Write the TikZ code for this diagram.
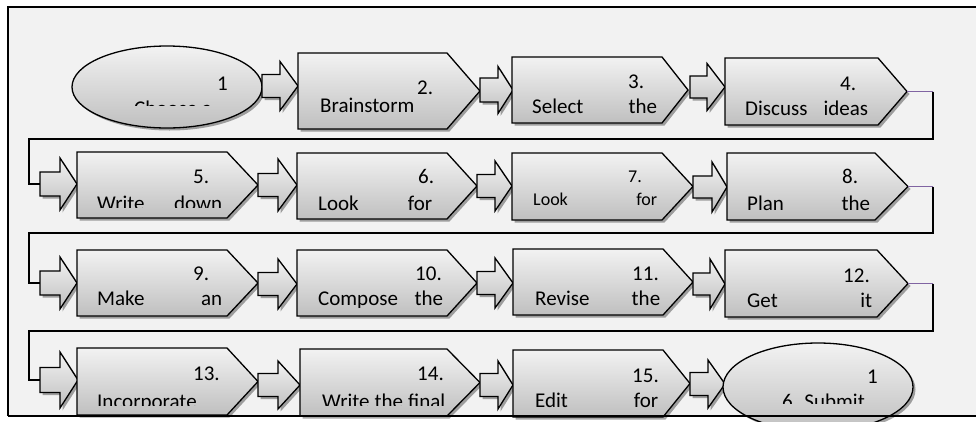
\documentclass[tikz,border=0pt]{standalone}
\usepackage{fontspec}
\setmainfont{Carlito}
\usetikzlibrary{shadows}
\definecolor{bgc}{HTML}{F2F2F2}
\definecolor{purp}{RGB}{128,100,162}
\tikzset{
  boxsty/.style={draw=black, line width=1.3pt, line join=miter, top color=gray!10, bottom color=gray!50,
    drop shadow={shadow xshift=2.5pt, shadow yshift=-2.5pt, fill=black, opacity=0.35}},
  txt/.style={inner sep=0pt, anchor=base west, font=\fontsize{21}{25}\selectfont},
  smtxt/.style={inner sep=0pt, anchor=base west, font=\fontsize{18}{22}\selectfont},
  conn/.style={line width=1.2pt, draw=black},
  pconn/.style={line width=1.2pt, draw=purp},
  framesty/.style={line width=2pt, draw=black},
}
% home-plate box: name, x left, x corner, x tip, y top, y bottom
\newcommand\hbx[6]{%
  \path[boxsty] (#2,#5) -- (#3,#5) -- (#4,{(#5+#6)/2}) -- (#3,#6) -- (#2,#6) -- cycle;
  \coordinate (#1-tip) at (#4,{(#5+#6)/2});
  \coordinate (#1-w) at (#2,{(#5+#6)/2});
}
% block arrow: name, x0, x head base, x tip, cy, shaft half, head half
\newcommand\barr[7]{%
  \path[boxsty] (#2,#5-#6) -- (#3,#5-#6) -- (#3,#5-#7) -- (#4,#5) -- (#3,#5+#7) -- (#3,#5+#6) -- (#2,#5+#6) -- cycle;
  \coordinate (#1-in) at (#2,#5);
  \coordinate (#1-tip) at (#4,#5);
}
\begin{document}
\begin{tikzpicture}[x=1pt,y=-1pt]
\useasboundingbox (0,0) rectangle (976,421);
\fill[white] (0,0) rectangle (976,421);
\fill[bgc] (8,7) rectangle (976,416);
\draw[framesty] (976,7) -- (8,7) -- (8,416);

% row-end connectors
\coordinate (c1a) at (933,91.5);
\coordinate (c1c) at (29,139);
\coordinate (c2a) at (933,186.5);
\coordinate (c2c) at (29,233);
\coordinate (c3a) at (933,283.5);
\coordinate (c3c) at (29,331);

% row 1
\path[boxsty] (167,87) ellipse [x radius=95, y radius=41];
\coordinate (e1) at (167,87);
\barr{a12}{262}{280}{298}{86}{11.5}{24.5}
\hbx{b2}{298}{447}{480}{53}{129}
\barr{a23}{480}{498}{513}{90}{12}{23.5}
\hbx{b3}{512}{662}{688}{57}{123}
\barr{a34}{690}{707}{725}{87}{11}{23.5}
\hbx{b4}{725}{878}{907}{58}{125}

% row 2
\barr{a45}{40}{60}{77}{184}{12}{26}
\hbx{b5}{77}{227}{258}{152}{218}
\barr{a56}{258}{278}{297}{185}{11.5}{26}
\hbx{b6}{297}{447}{477}{153}{219}
\barr{a67}{477}{495}{512}{186}{11.5}{25}
\hbx{b7}{512}{662}{693}{153}{220}
\barr{a78}{693}{712}{727}{187}{11}{25}
\hbx{b8}{727}{875}{908}{153}{220}

% row 3
\barr{a89}{40}{60}{77}{283}{12}{26}
\hbx{b9}{77}{227}{258}{250}{316}
\barr{a910}{258}{278}{297}{284}{11.5}{25}
\hbx{b10}{297}{447}{477}{250}{316}
\barr{a1011}{477}{495}{513}{283}{11.5}{25}
\hbx{b11}{513}{663}{693}{249}{315}
\barr{a1112}{693}{710}{725}{284}{11}{25}
\hbx{b12}{725}{877}{908}{250}{317}

% row 4
\barr{a1213}{40}{60}{78}{380}{12.5}{28}
\hbx{b13}{77}{227}{258}{348}{415}
\barr{a1314}{258}{278}{300}{385}{11.5}{24}
\hbx{b14}{300}{447}{480}{349}{416}
\barr{a1415}{480}{498}{513}{385}{11.5}{24}
\hbx{b15}{513}{663}{690}{350}{417}
\barr{a1516}{690}{708}{725}{384}{11.5}{24}
\path[boxsty] (818,387) ellipse [x radius=95, y radius=44];
\coordinate (e16) at (818,387);

% connectors between rows
\draw[pconn] (b4-tip) -- (c1a);
\draw[conn] (c1a) |- (c1c) |- (a45-in);
\draw[pconn] (b8-tip) -- (c2a);
\draw[conn] (c2a) |- (c2c) |- (a89-in);
\draw[pconn] (b12-tip) -- (c3a);
\draw[conn] (c3a) |- (c3c) |- (a1213-in);

% texts
\node[txt] (n1) at (217,90) {1};
\begin{scope}
  \clip (0,0) rectangle (976,105);
  \node[txt] (w1) at (134,115) {Choose a};
\end{scope}
\node[txt] (n2) at (417,94) {2.};
\node[txt] (w2) at (320,112) {Brainstorm};
\node[txt] (n3) at (628,88) {3.};
\node[txt] (w3) at (532,113) {\hbox to 125pt{Select\hfill the}};
\node[txt] (n4) at (840,90) {4.};
\node[txt] (w4) at (745,115) {\hbox to 123pt{Discuss\hfill ideas}};

\node[txt] (n5) at (193,183) {5.};
\begin{scope}
  \clip (0,150) rectangle (976,207.5);
  \node[txt] (w5) at (97,210) {\hbox to 125pt{Write\hfill down}};
\end{scope}
\node[txt] (n6) at (418,183) {6.};
\node[txt] (w6) at (318,210) {\hbox to 114pt{Look\hfill for}};
\node[smtxt] (n7) at (628,182) {7.};
\node[smtxt] (w7) at (533,205) {\hbox to 124pt{Look\hfill for}};
\node[txt] (n8) at (842,183) {8.};
\node[txt] (w8) at (747,210) {\hbox to 123pt{Plan\hfill the}};

\node[txt] (n9) at (193,280) {9.};
\node[txt] (w9) at (97,305) {\hbox to 125pt{Make\hfill an}};
\node[txt] (n10) at (415,280) {10.};
\begin{scope}
  \clip (0,250) rectangle (976,307);
  \node[txt] (w10) at (318,305) {\hbox to 125pt{Compose\hfill the}};
\end{scope}
\node[txt] (n11) at (632,280) {11.};
\node[txt] (w11) at (535,305) {\hbox to 125pt{Revise\hfill the}};
\node[txt] (n12) at (843,282) {12.};
\node[txt] (w12) at (747,307) {\hbox to 125pt{Get\hfill it}};

\node[txt] (n13) at (193,380) {13.};
\begin{scope}
  \clip (0,340) rectangle (976,405.5);
  \node[txt] (w13) at (97,408) {Incorporate};
  \node[txt] (w14) at (322,408) {\hbox to 123pt{Write\hfill the\hfill final}};
\end{scope}
\node[txt] (n14) at (417,380) {14.};
\node[txt] (n15) at (632,382) {15.};
\node[txt] (w15) at (535,407) {\hbox to 123pt{Edit\hfill for}};
\node[txt] (n16) at (867,383) {1};
\begin{scope}
  \clip (0,340) rectangle (976,403);
  \node[txt] (w16) at (782,408) {6. Submit};
\end{scope}

\draw[framesty] (8,416) -- (976,416);
\end{tikzpicture}
\end{document}
